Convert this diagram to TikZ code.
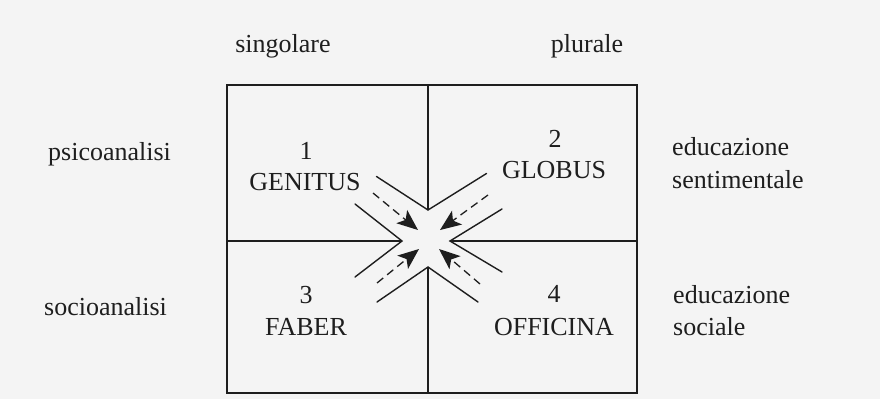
\documentclass[tikz,border=0pt]{standalone}
\usepackage{fontspec}
\setmainfont{Liberation Serif}
\usetikzlibrary{arrows.meta}
\definecolor{bg}{HTML}{F4F4F4}
\definecolor{ink}{HTML}{1E1E1E}
\tikzset{
  lbl/.style={font=\fontsize{26}{30}\selectfont, text=ink, inner sep=0pt},
  cen/.style={lbl, anchor=base},
  lft/.style={lbl, anchor=base west},
  frame/.style={draw=ink, line width=1.4pt},
  chev/.style={draw=ink, line width=1.4pt, line cap=round, line join=miter},
  flow/.style={draw=ink, line width=1.3pt, dash pattern=on 8pt off 5pt,
    -{Stealth[length=21pt,width=17pt,inset=5pt]}}
}
\begin{document}
\begin{tikzpicture}[x=1pt,y=-1pt]
\fill[bg] (0,0) rectangle (880,399);
\useasboundingbox (0,0) rectangle (880,399);

% frame corners and grid points
\coordinate (tl) at (227,85);
\coordinate (br) at (637,393);
\coordinate (mt) at (428,85);
\coordinate (mb) at (428,393);
\coordinate (ml) at (227,241);
\coordinate (mr) at (637,241);

% chevron vertices and ends
\coordinate (vt) at (428,210);
\coordinate (vtl) at (376.5,176.5);
\coordinate (vtr) at (486.5,173.5);
\coordinate (vl) at (402,241);
\coordinate (vlu) at (355,204);
\coordinate (vld) at (355,277);
\coordinate (vr) at (450,241);
\coordinate (vru) at (502,209);
\coordinate (vrd) at (502,272);
\coordinate (vb) at (428,267);
\coordinate (vbl) at (377,302);
\coordinate (vbr) at (478,302);

% arrows
\coordinate (anw0) at (373,193);
\coordinate (anw1) at (418,230);
\coordinate (ane0) at (488,195);
\coordinate (ane1) at (440,230);
\coordinate (asw0) at (377,283);
\coordinate (asw1) at (419,249);
\coordinate (ase0) at (480,284);
\coordinate (ase1) at (439,249);

\draw[frame] (tl) rectangle (br);
\draw[frame] (mt) -- (vt);
\draw[frame] (vb) -- (mb);
\draw[frame] (ml) -- (vl);
\draw[frame] (vr) -- (mr);

\draw[chev] (vtl) -- (vt) -- (vtr);
\draw[chev] (vlu) -- (vl) -- (vld);
\draw[chev] (vru) -- (vr) -- (vrd);
\draw[chev] (vbl) -- (vb) -- (vbr);

\draw[flow] (anw0) -- (anw1);
\draw[flow] (ane0) -- (ane1);
\draw[flow] (asw0) -- (asw1);
\draw[flow] (ase0) -- (ase1);

% labels
\node[cen] (sing) at (283,52) {singolare};
\node[cen] (plur) at (587,52) {plurale};
\node[lft] (psico) at (48,160) {psicoanalisi};
\node[lft] (socio) at (44,315) {socioanalisi};
\node[lft] (edsent1) at (672,155) {educazione};
\node[lft] (edsent2) at (672,188) {sentimentale};
\node[lft] (edsoc1) at (673,303) {educazione};
\node[lft] (edsoc2) at (673,335) {sociale};

\node[cen] (n1) at (306,159) {1};
\node[cen] (genitus) at (305,190) {GENITUS};
\node[cen] (n2) at (555,147) {2};
\node[cen] (globus) at (554,178) {GLOBUS};
\node[cen] (n3) at (306,303) {3};
\node[cen] (faber) at (306,335) {FABER};
\node[cen] (n4) at (554,302) {4};
\node[cen] (officina) at (554,335) {OFFICINA};
\end{tikzpicture}
\end{document}
